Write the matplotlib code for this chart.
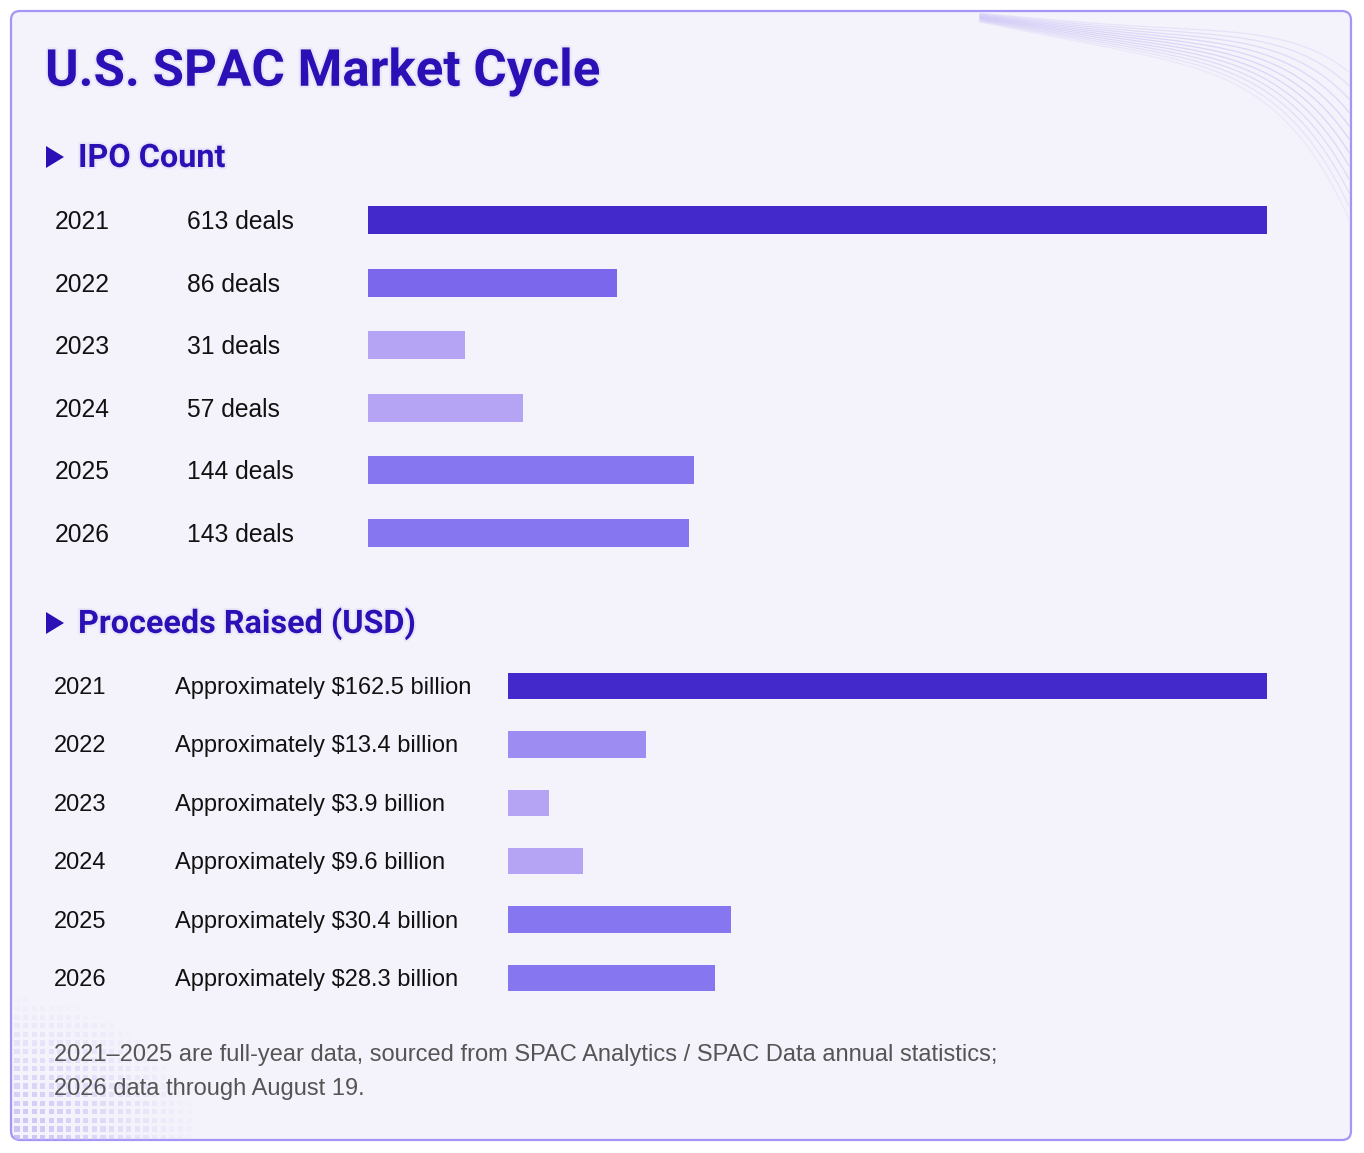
import numpy as np
import matplotlib
matplotlib.use("Agg")
import matplotlib.pyplot as plt
from matplotlib.patches import FancyBboxPatch, Polygon
from matplotlib.transforms import blended_transform_factory, offset_copy
import matplotlib.patheffects as pe

# ---------------- data ----------------
years = ["2021", "2022", "2023", "2024", "2025", "2026"]
ipo_deals = [613, 86, 31, 57, 144, 143]
ipo_labels = ["613 deals", "86 deals", "31 deals", "57 deals", "144 deals", "143 deals"]
# displayed bar length (relative scale, % of the longest bar) as drawn in the reference
ipo_bar_scale = [100, 27.7, 10.8, 17.2, 36.3, 35.7]

proceeds_bn = [162.5, 13.4, 3.9, 9.6, 30.4, 28.3]
proceeds_labels = ["Approximately $162.5 billion", "Approximately $13.4 billion",
                   "Approximately $3.9 billion", "Approximately $9.6 billion",
                   "Approximately $30.4 billion", "Approximately $28.3 billion"]
proceeds_bar_scale = [100, 18.2, 5.4, 9.9, 29.4, 27.3]

ipo_colors = ["#4329CB", "#7A67EC", "#B4A4F3", "#B4A4F3", "#8676EF", "#8676EF"]
proc_colors = ["#4329CB", "#9D8CF1", "#B4A4F3", "#B4A4F3", "#8676EF", "#8676EF"]

title = "U.S. SPAC Market Cycle"
section1 = "IPO Count"
section2 = "Proceeds Raised (USD)"
footnote = ("2021\u20132025 are full-year data, sourced from SPAC Analytics / SPAC Data annual statistics;\n"
            "2026 data through August 19.")

plt.rcParams['font.family'] = ['Liberation Sans', 'DejaVu Sans']
HEAD_FONT = ['Roboto', 'Liberation Sans', 'DejaVu Sans']

W, H = 1364, 1153
fig = plt.figure(figsize=(W / 100, H / 100), dpi=100)
fig.patch.set_facecolor("white")

# background axes in pixel coordinates
bg = fig.add_axes([0, 0, 1, 1])
bg.set_xlim(0, W)
bg.set_ylim(H, 0)
bg.axis("off")

card = FancyBboxPatch((11, 11), 1340, 1129, boxstyle="round,pad=0,rounding_size=9",
                      facecolor="#F4F2FB", edgecolor="#A595F6", linewidth=1.6, zorder=0)
bg.add_patch(card)

# decorative waves top-right
xs = np.linspace(980, 1349, 400)
t = (xs - 980) / (1349 - 980)
for i in range(12):
    s = 0.8 + 3.6 * t + 9 * t ** 5
    ys = 13 + (i + 0.3) * s + 34 * t * (1 - t) ** 1.5 + 14 * np.sin(np.pi * t) * t + 55 * t ** 6
    m = (ys > 13) & (ys < 1138)
    alpha = 0.32 * (0.35 + 0.65 * np.sin(np.pi * min(1, (i + 1) / 12)))
    bg.plot(xs[m], ys[m], color="#A596F0", lw=0.9, alpha=alpha, zorder=1)

# decorative dot grid bottom-left
gx, gy = np.meshgrid(np.arange(17, 200, 8.6), np.arange(1000, 1138, 8.6))
d = np.hypot((gx - 11) / 190, (gy - 1140) / 145)
a = np.clip(1 - d, 0, 1) ** 1.1
mask = a > 0.02
cols = np.zeros((mask.sum(), 4))
cols[:, :3] = matplotlib.colors.to_rgb("#BFB2F5")
cols[:, 3] = 0.8 * a[mask]
bg.scatter(gx[mask], gy[mask], s=14, marker="s", c=cols, linewidths=0, zorder=1)

title_color = "#2A10B5"
glow = [pe.withStroke(linewidth=3, foreground="#EAE6F9")]

bg.text(45, 72, title, fontsize=36.8, fontweight="bold", color=title_color, family=HEAD_FONT,
        va="center", ha="left", zorder=5, path_effects=glow)

def section(y, text):
    bg.add_patch(Polygon([[46, y - 11], [46, y + 11], [64, y]], closed=True,
                         facecolor=title_color, edgecolor="none", zorder=5))
    bg.text(78, y + 1, text, fontsize=23.3, fontweight="bold", color=title_color, family=HEAD_FONT,
            va="center", ha="left", zorder=5, path_effects=glow)

section(157, section1)
section(623, section2)

def fig_axes(x0, x1, y0, y1):
    return fig.add_axes([x0 / W, 1 - y1 / H, (x1 - x0) / W, (y1 - y0) / H])

def bar_block(ax, scale, colors, labels, year_x, label_x, height, fs_year, fs_label):
    pos = np.arange(len(years))
    ax.barh(pos, scale, height=height, color=colors, edgecolor="none", zorder=3)
    ax.set_xlim(0, 100)
    ax.set_ylim(len(years) - 0.5, -0.5)
    ax.axis("off")
    tr = blended_transform_factory(bg.transData, ax.transData)
    tr = offset_copy(tr, fig=fig, x=0, y=-2, units="dots")
    for p, yr, lab in zip(pos, years, labels):
        ax.text(year_x, p, yr, transform=tr, fontsize=fs_year, color="#111111",
                va="center", ha="left", clip_on=False)
        ax.text(label_x, p, lab, transform=tr, fontsize=fs_label, color="#111111",
                va="center", ha="left", clip_on=False)

ax1 = fig_axes(368, 1267, 188.7, 564.3)
bar_block(ax1, ipo_bar_scale, ipo_colors, ipo_labels, 55, 187, 0.45, 17.7, 17.7)

ax2 = fig_axes(508, 1267, 656.8, 1007.2)
bar_block(ax2, proceeds_bar_scale, proc_colors, proceeds_labels, 54, 175, 0.45, 17, 17)

bg.text(54, 1072, footnote, fontsize=17, color="#555555", va="center", ha="left",
        linespacing=1.72, zorder=5)

fig.savefig("out.png", dpi=100, facecolor="white")
